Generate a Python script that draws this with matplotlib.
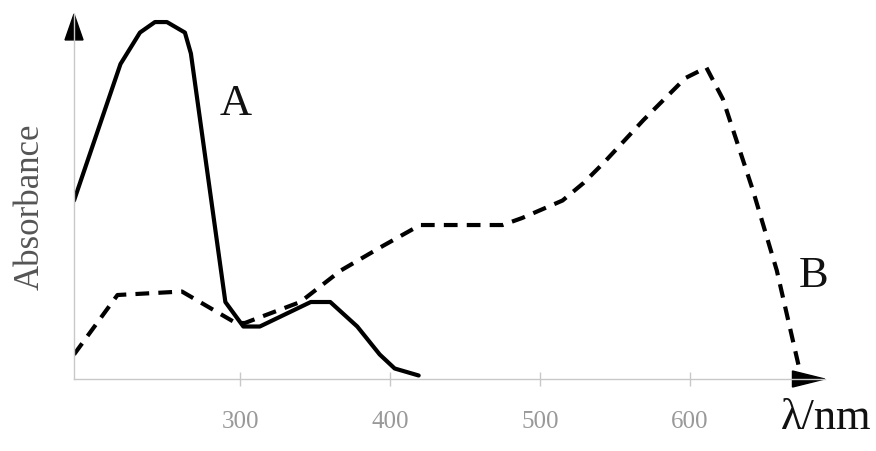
import matplotlib
matplotlib.use('Agg')
import matplotlib.pyplot as plt
from matplotlib.patches import Polygon

# curve A (solid)
a_nm = [189, 220, 233, 243, 251, 263, 267, 290, 302, 313, 347, 360, 378, 393, 403, 419]
a_abs = [0.51, 0.90, 0.99, 1.02, 1.02, 0.99, 0.93, 0.22, 0.15, 0.15, 0.22, 0.22, 0.15, 0.07, 0.03, 0.01]

# curve B (dashed)
b_nm = [189, 218, 261, 273, 297, 303, 340, 367, 395, 420, 475, 488, 515, 529,
        543, 569, 597, 611, 622, 642, 658, 673]
b_abs = [0.07, 0.24, 0.25, 0.22, 0.16, 0.16, 0.22, 0.31, 0.38, 0.44, 0.44, 0.46, 0.51, 0.56,
         0.62, 0.74, 0.86, 0.89, 0.80, 0.54, 0.31, 0.03]

x_ticks = [300, 400, 500, 600]
x_labels = ['300', '400', '500', '600']

serif = ['Liberation Serif', 'DejaVu Serif']

fig = plt.figure(figsize=(8.76, 4.52), dpi=100)
ax = fig.add_axes([0.0845, 0.1593, 0.857, 0.8075])

ax.plot(a_nm, a_abs, color='black', lw=3, solid_joinstyle='round', solid_capstyle='round')
ax.plot(b_nm, b_abs, color='black', lw=3, linestyle=(0, (3.3, 2.2)), dash_capstyle='butt')

ax.set_xlim(189, 690)
ax.set_ylim(0, 1.043)

# axes: thin grey lines with black arrow heads
for side in ['top', 'right']:
    ax.spines[side].set_visible(False)
for side in ['left', 'bottom']:
    ax.spines[side].set_color('#c8c8c8')
    ax.spines[side].set_linewidth(1)

ax.add_patch(Polygon([[0, 1], [-0.012, 0.929], [0.012, 0.929]], closed=True,
                     transform=ax.transAxes, color='black', clip_on=False))
ax.add_patch(Polygon([[1, 0], [0.957, 0.022], [0.957, -0.022]], closed=True,
                     transform=ax.transAxes, color='black', clip_on=False))

ax.set_yticks([])
ax.set_xticks(x_ticks)
ax.set_xticklabels(x_labels, family=serif, fontsize=18, color='#999999')
ax.tick_params(axis='x', direction='inout', length=10, width=1, color='#c8c8c8', pad=17)

ax.set_ylabel('Absorbance', family=serif, fontsize=25, color='#555555')
ax.yaxis.set_label_coords(-0.037, 0.475)

ax.text(297, 0.79, 'A', family=serif, fontsize=32, color='#111111', ha='center', va='center')
ax.text(0.985, 0.285, 'B', transform=ax.transAxes, family=serif, fontsize=32,
        color='#111111', ha='center', va='center')
fig.text(0.995, 0.075, '\u03bb/nm', family=serif, fontsize=32, color='#111111',
         ha='right', va='center')

fig.savefig('out.png', dpi=100, facecolor='white')
